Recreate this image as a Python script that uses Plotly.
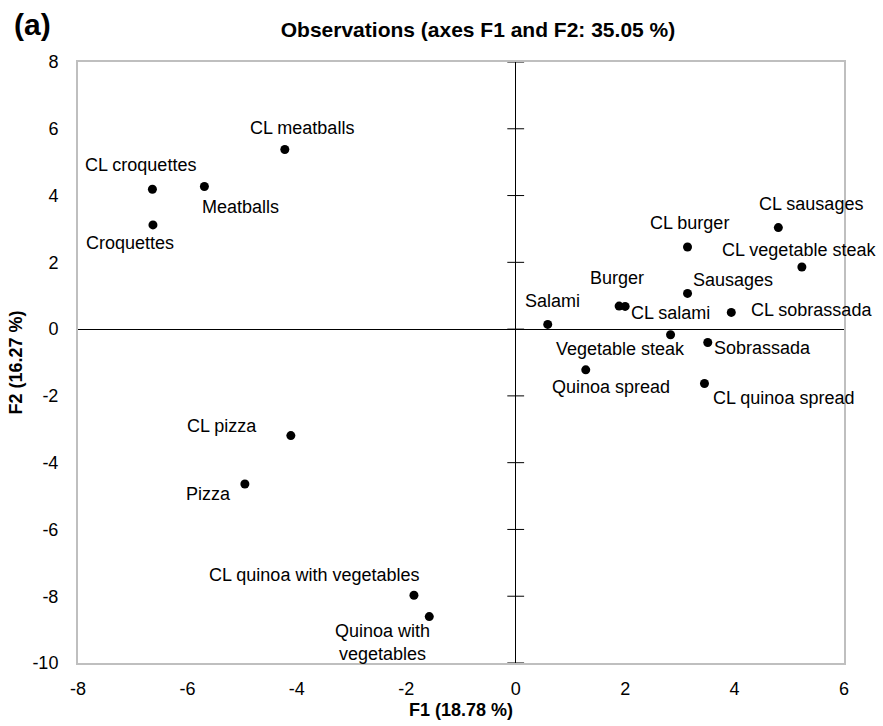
import plotly.graph_objects as go

# ---- data ----
names = ["CL meatballs", "CL croquettes", "Meatballs", "Croquettes",
         "CL pizza", "Pizza", "CL quinoa with vegetables", "Quinoa with<br>vegetables",
         "Salami", "Burger", "CL salami", "Sausages", "CL burger", "CL sausages",
         "CL vegetable steak", "CL sobrassada", "Vegetable steak", "Sobrassada",
         "Quinoa spread", "CL quinoa spread"]
f1 = [-4.22, -6.64, -5.69, -6.63,
      -4.11, -4.95, -1.86, -1.58,
      0.585, 1.89, 2.00, 3.14, 3.14, 4.80,
      5.23, 3.94, 2.83, 3.51,
      1.28, 3.45]
f2 = [5.38, 4.19, 4.27, 3.12,
      -3.19, -4.64, -7.97, -8.61,
      0.14, 0.69, 0.68, 1.07, 2.46, 3.04,
      1.86, 0.50, -0.17, -0.40,
      -1.22, -1.63]
x_ticks = [-8, -6, -4, -2, 0, 2, 4, 6]
x_tick_labels = ["-8", "-6", "-4", "-2", "0", "2", "4", "6"]
y_ticks = [-10, -8, -6, -4, -2, 0, 2, 4, 6, 8]
y_tick_labels = ["-10", "-8", "-6", "-4", "-2", "0", "2", "4", "6", "8"]

# label offsets in pixels (dx right, dy up)
label_dx = [17, -12, 36, -23,
            -69, -36, -100, -47,
            5, -2, 45, 45, 2, 33,
            -3, 80, -50, 55,
            25, 79]
label_dy = [21, 24, -20, -18,
            10, -10, 20, -26,
            23, 28, -7, 13, 24, 24,
            17, 2, -14, -6,
            -17, -14]

FONT = "Arial, Liberation Sans, sans-serif"

fig = go.Figure()

# tick marks crossing the vertical zero axis
fig.add_trace(go.Scatter(
    x=[0] * len(y_ticks), y=y_ticks, mode="markers",
    marker=dict(symbol="line-ew", size=12, line=dict(width=1, color="black")),
    hoverinfo="skip", showlegend=False, cliponaxis=False))

fig.add_trace(go.Scatter(
    x=f1, y=f2, mode="markers",
    marker=dict(size=9, color="black"),
    text=names, showlegend=False))

annotations = []
for n, x, y, dx, dy in zip(names, f1, f2, label_dx, label_dy):
    annotations.append(dict(x=x, y=y, xref="x", yref="y", text=n, showarrow=False,
                            xshift=dx, yshift=dy, font=dict(size=18, color="black", family=FONT),
                            xanchor="center", yanchor="middle"))
annotations.append(dict(x=-0.060, y=1.062, xref="paper", yref="paper", text="<b>(a)</b>",
                        showarrow=False, font=dict(size=30, color="black", family=FONT),
                        xanchor="center", yanchor="middle"))

fig.update_layout(
    width=883, height=726,
    margin=dict(l=78, r=39, t=62, b=63),
    paper_bgcolor="white", plot_bgcolor="white",
    font=dict(family=FONT, size=18, color="black"),
    title=dict(text="<b>Observations (axes F1 and F2: 35.05 %)</b>",
               xref="container", yref="container",
               x=478 / 883, y=1 - 30 / 726, xanchor="center", yanchor="middle",
               font=dict(size=21, color="black", family=FONT)),
    annotations=annotations,
    showlegend=False,
)

fig.update_xaxes(range=[-8, 6], tickvals=x_ticks, ticktext=x_tick_labels, showgrid=False,
                 zeroline=True, zerolinecolor="black", zerolinewidth=1,
                 showline=True, mirror=True, linecolor="#BFBFBF", linewidth=2,
                 ticks="", ticklabelstandoff=8, automargin=False,
                 tickfont=dict(size=18, color="black"),
                 title=dict(text="<b>F1 (18.78 %)</b>", font=dict(size=18), standoff=6))
fig.update_yaxes(range=[-10, 8], tickvals=y_ticks, ticktext=y_tick_labels, showgrid=False,
                 zeroline=True, zerolinecolor="black", zerolinewidth=1,
                 showline=True, mirror=True, linecolor="#BFBFBF", linewidth=2,
                 ticks="", ticklabelstandoff=14, automargin=False,
                 tickfont=dict(size=18, color="black"),
                 title=dict(text="<b>F2 (16.27 %)</b>", font=dict(size=18), standoff=5))

fig.write_html("out.html")
